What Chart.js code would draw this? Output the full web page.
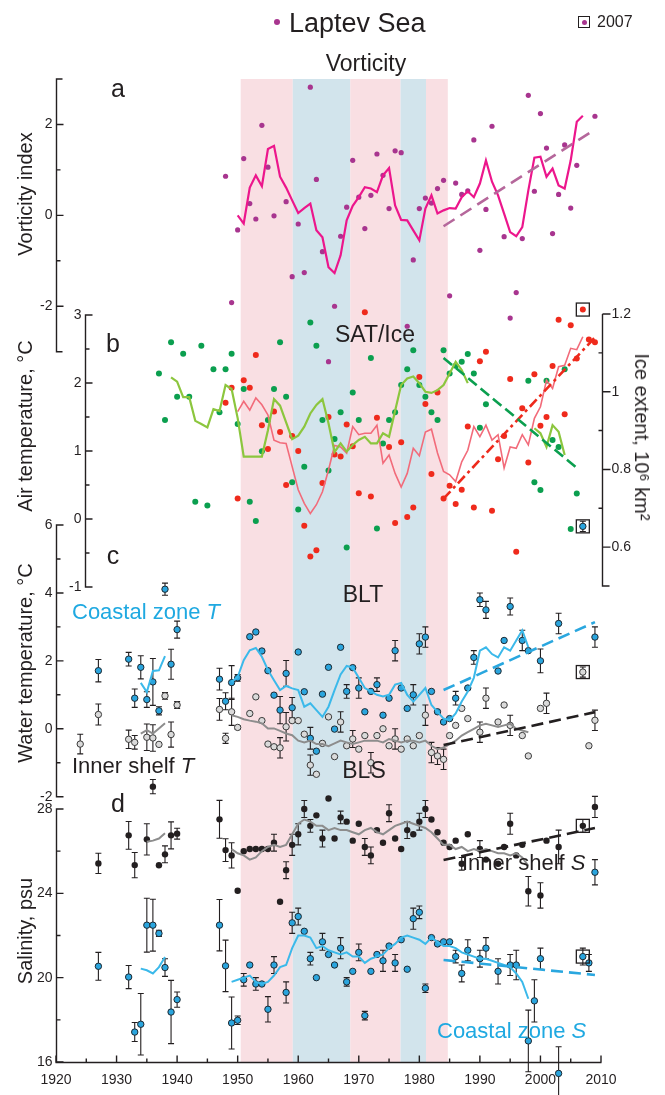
<!DOCTYPE html>
<html><head><meta charset="utf-8">
<script src="https://cdn.jsdelivr.net/npm/chart.js@4.4.0/dist/chart.umd.min.js"></script>
<style>
html,body{margin:0;padding:0;background:#fff;}
#wrap{position:relative;width:665px;height:1095px;font-family:"Liberation Sans",Arial,sans-serif;color:#231f20;overflow:hidden;}
#wrap canvas{position:absolute;left:0;top:0;}
.t{position:absolute;white-space:nowrap;line-height:1;}
.c{transform:translate(-50%,-50%);}
.l{transform:translate(0,-50%);}
.rl{transform:translate(-50%,-50%) rotate(-90deg);}
.rr{transform:translate(-50%,-50%) rotate(90deg);}
.cy{color:#1fa9e1;}
</style></head>
<body>
<div id="wrap">
<canvas id="cv" width="665" height="1095"></canvas>
<div class="t" style="left:274px;top:19px;width:6px;height:6px;border-radius:50%;background:#a8358f"></div>
<div class="t l" style="left:289px;top:23px;font-size:27px">Laptev Sea</div>
<div class="t" style="left:578px;top:16px;width:10px;height:10px;border:1.3px solid #231f20"></div>
<div class="t" style="left:582px;top:20px;width:5px;height:5px;border-radius:50%;background:#a8358f"></div>
<div class="t l" style="left:597px;top:22px;font-size:16px">2007</div>
<div class="t c" style="left:366px;top:63px;font-size:23px">Vorticity</div>
<div class="t c" style="left:118px;top:88px;font-size:25px">a</div>
<div class="t c" style="left:113px;top:343px;font-size:25px">b</div>
<div class="t c" style="left:113px;top:555px;font-size:25px">c</div>
<div class="t c" style="left:118px;top:803px;font-size:25px">d</div>
<div class="t c" style="left:375px;top:334px;font-size:23px">SAT/Ice</div>
<div class="t c" style="left:363px;top:594px;font-size:23px">BLT</div>
<div class="t c" style="left:364px;top:770px;font-size:23px">BLS</div>
<div class="t l cy" style="left:72px;top:612px;font-size:22px">Coastal zone <i>T</i></div>
<div class="t l" style="left:72px;top:766px;font-size:22px">Inner shelf <i>T</i></div>
<div class="t l" style="left:462px;top:863px;font-size:22px">Inner shelf <i>S</i></div>
<div class="t l cy" style="left:437px;top:1031px;font-size:22px">Coastal zone <i>S</i></div>
<div class="t rl" style="left:25px;top:194px;font-size:20px">Vorticity index</div>
<div class="t rl" style="left:25px;top:426px;font-size:20px">Air temperature, °C</div>
<div class="t rl" style="left:25px;top:663px;font-size:20px">Water temperature, °C</div>
<div class="t rl" style="left:25px;top:931px;font-size:20px">Salinity, psu</div>
<div class="t rr" style="left:642px;top:437px;font-size:20px">Ice extent, 10⁶ km²</div>
</div>
<script>
// ---------------- DATA ----------------
const xTickLabels = [1920,1930,1940,1950,1960,1970,1980,1990,2000,2010];
const xMinorTicks = [1925,1935,1945,1955,1965,1975,1985,1995,2005];
const vortTicks = [-2,0,2];
const vortMinor = [-1,1];
const satTicks = [-1,0,1,2,3];
const satMinor = [-0.5,0.5,1.5,2.5];
const iceTicks = [0.6,0.8,1,1.2];
const iceMinor = [0.7,0.9,1.1];
const wtTicks = [-2,0,2,4,6];
const wtMinor = [-1,1,3,5];
const salTicks = [16,20,24,28];
const salMinor = [18,22,26];

// climate regimes (shaded)
const bandStart = [1950.5,1959.1,1968.6,1976.9,1981.1];
const bandEnd   = [1959.1,1968.6,1976.9,1981.1,1984.7];
const bandKind  = ['warm','cold','warm','cold','warm'];

// (a) vorticity
const vortYears = [1948,1949,1950,1951,1952,1953,1954,1955,1956,1958,1959,1960,1961,1962,1963,1964,1965,1966,1967,1968,1969,1970,1971,1972,1973,1974,1975,1976,1977,1978,1979,1980,1981,1982,1983,1984,1985,1986,1987,1988,1989,1990,1991,1992,1993,1994,1995,1996,1997,1998,1999,2000,2001,2002,2003,2004,2005,2006,2008,2009];
const vortValues = [0.86,-1.92,-0.32,1.25,0.26,-0.08,1.98,1.06,-0.01,0.30,-1.35,-0.19,-1.26,2.82,0.79,-0.80,-3.22,-2.0,-0.46,0.18,1.21,0.40,-0.29,0.44,1.35,0.88,0.15,1.42,1.38,-2.44,-0.98,0.15,0.38,0.27,0.59,0.77,-1.77,0.71,0.46,0.54,1.66,-0.77,0.13,1.96,3.10,-0.47,-2.26,-1.70,-0.51,2.64,0.53,2.24,1.48,-0.40,0.46,1.55,0.16,1.10,3.33,2.18];
const vortMeanYears = [1950,1951,1952,1953,1954,1955,1956,1957,1958,1959,1960,1961,1962,1963,1964,1965,1966,1967,1968,1969,1970,1971,1972,1973,1974,1975,1976,1977,1978,1979,1980,1981,1982,1983,1984,1985,1986,1987,1988,1989,1990,1991,1992,1993,1994,1995,1996,1997,1998,1999,2000,2001,2002,2003,2004,2005,2006,2007];
const vortMean = [0.0,-0.18,0.61,0.88,0.64,1.46,1.53,0.85,0.61,0.33,0.05,0.16,0.26,-0.33,-0.48,-1.14,-1.27,-0.88,-0.11,0.21,0.40,0.62,0.59,0.51,0.88,1.04,0.22,-0.10,-0.11,-0.33,-0.55,0.15,0.44,0.04,0.11,0.16,0.15,0.40,0.53,0.40,0.70,1.21,0.74,0.44,0.04,-0.37,-0.46,-0.26,0.55,1.27,1.29,0.85,1.03,0.66,0.59,1.21,2.06,2.19];
const vortTrendYears = [1984,2009];
const vortTrend = [-0.24,1.89];

// (b) SAT and ice extent
const satYears = [1948,1949,1950,1951,1952,1953,1954,1955,1956,1957,1958,1959,1960,1961,1962,1963,1964,1965,1966,1967,1968,1969,1970,1971,1972,1973,1975,1976,1977,1978,1979,1980,1981,1982,1983,1984,1985,1986,1987,1988,1989,1990,1991,1992,1993,1994,1995,1996,1997,1998,1999,2000,2001,2002,2003,2004,2005,2006,2007,2008,2009];
const satValues = [1.71,1.93,0.30,2.04,1.93,2.41,1.38,1.03,1.58,1.28,0.50,1.22,1.00,-0.10,-0.55,-0.46,0.53,1.50,0.95,0.92,1.39,1.07,0.38,3.04,0.33,1.49,1.06,-0.06,1.13,0.03,0.17,2.09,1.69,0.66,1.86,0.30,0.49,0.22,0.43,1.36,0.17,2.32,2.46,0.12,0.88,1.22,2.06,-0.48,1.63,0.83,2.13,1.37,1.50,2.25,2.93,1.54,2.85,2.36,3.08,2.64,2.60];
const satMeanYears = [1950,1951,1952,1953,1954,1955,1956,1957,1958,1959,1960,1961,1962,1963,1964,1965,1966,1967,1968,1969,1970,1971,1972,1973,1974,1975,1976,1977,1978,1979,1980,1981,1982,1983,1984,1985,1986,1987,1988,1989,1990,1991,1992,1993,1994,1995,1996,1997,1998,1999,2000,2001,2002,2003,2004,2005,2006,2007];
const satMean = [1.58,1.73,1.60,1.78,1.68,1.53,1.16,1.12,1.11,0.77,0.43,0.23,0.08,0.21,0.40,0.72,1.08,1.06,0.97,1.36,1.24,1.26,1.26,1.38,0.82,0.94,0.67,0.47,0.67,1.04,0.93,1.28,1.32,0.97,0.70,0.65,0.55,0.84,1.01,1.36,1.21,1.38,1.16,1.24,0.75,1.06,1.04,1.24,1.09,1.48,1.65,2.04,1.92,2.24,2.26,2.51,2.49,2.68];
const satTrendYears = [1984,2009];
const satTrend = [0.30,2.67];
const iceYears = [1937,1938,1939,1940,1941,1942,1943,1944,1945,1946,1947,1948,1949,1950,1951,1952,1953,1954,1955,1956,1957,1958,1959,1960,1961,1962,1963,1964,1965,1966,1967,1968,1969,1970,1972,1973,1974,1975,1976,1977,1978,1979,1980,1981,1982,1983,1984,1985,1986,1987,1988,1989,1990,1991,1998,1999,2000,2001,2002,2003,2004,2005,2006];
const iceValues = [1.047,0.927,1.127,0.987,1.098,0.987,0.717,1.118,0.707,1.058,0.947,1.058,1.098,0.917,1.007,0.717,0.667,0.847,0.927,1.007,1.127,0.987,0.767,0.697,0.807,1.178,1.118,0.927,0.797,0.878,0.947,0.599,0.998,0.927,1.087,0.648,0.867,0.927,0.947,1.017,1.058,1.107,1.017,0.987,0.947,0.927,1.107,1.047,1.067,1.077,1.097,1.047,0.907,0.968,1.028,0.767,0.747,1.028,0.876,0.858,1.058,0.647,0.738];
const iceMeanYears = [1939,1940,1941,1942,1943,1944,1945,1946,1947,1948,1949,1950,1951,1952,1953,1954,1955,1956,1957,1958,1959,1960,1961,1962,1963,1964,1965,1966,1967,1968,1969,1970,1971,1972,1973,1974,1975,1976,1977,1978,1979,1980,1981,1982,1983,1984,1985,1986,1987,1988,1993,1999,2000,2001,2002,2003,2004];
const iceMean = [1.037,1.026,0.986,0.986,0.925,0.917,0.908,0.955,0.950,1.017,1.007,0.932,0.833,0.833,0.833,0.833,0.901,0.981,0.964,0.921,0.878,0.887,0.910,0.944,0.966,0.981,0.919,0.845,0.867,0.846,0.863,0.876,0.884,0.867,0.867,0.893,0.884,0.951,1.017,1.034,1.039,1.022,1.000,0.997,1.004,1.017,1.047,1.077,1.056,1.022,null,0.906,0.893,0.858,0.914,0.897,0.837];
const iceTrendYears = [1984,2006];
const iceTrend = [1.087,0.804];

// (c) bottom-layer temperature
const coastTYears = [1927,1932,1933,1934,1935,1936,1937,1938,1939,1940,1947,1948,1949,1950,1952,1953,1954,1955,1956,1957,1958,1959,1960,1961,1962,1963,1964,1965,1966,1967,1968,1969,1970,1971,1972,1973,1974,1975,1976,1977,1978,1979,1980,1981,1982,1983,1984,1985,1986,1988,1989,1990,1991,1993,1994,1995,1997,1998,2000,2003,2007,2009];
const coastT = [1.71,2.05,0.90,1.81,0.86,1.38,0.53,4.11,1.90,2.92,1.46,0.81,1.36,1.50,2.71,2.85,2.29,1.71,0.99,0.55,1.63,0.62,2.26,1.09,-0.28,-0.66,1.02,1.81,-0.01,2.4,1.1,1.8,1.2,0.5,1.1,1.3,0.4,0.9,2.3,1.2,0.6,1.0,2.5,2.7,1.1,0.5,0.2,0.3,0.9,1.2,2.1,3.8,3.5,1.7,2.6,3.6,2.6,2.3,2.0,3.1,5.96,2.7];
const coastTErr = [0.33,0.20,0.27,0.34,0.23,0.69,0.12,0.18,0.44,0.25,0.32,0.25,0.50,0.10,0,0,0,0,0,0.40,0.38,0.30,0,0,0.32,0,0,0,0,0,0.2,0,0.3,0,0,0.2,0,0,0.3,0,0,0.3,0.3,0.3,0,0,0,0,0.2,0,0.2,0.2,0.25,0,0,0.25,0.3,0,0.35,0.3,0.15,0.3];
const innerTYears = [1924,1927,1932,1933,1935,1936,1937,1938,1939,1940,1947,1948,1949,1950,1952,1953,1954,1955,1956,1957,1958,1959,1960,1961,1962,1963,1964,1965,1966,1967,1968,1969,1970,1971,1972,1973,1974,1975,1976,1977,1978,1979,1980,1981,1982,1983,1984,1985,1986,1987,1988,1990,1991,1993,1994,1995,1997,1998,2000,2001,2007,2008,2009];
const innerT = [-0.45,0.42,-0.31,-0.40,-0.25,-0.27,-0.46,0.97,-0.17,0.70,0.57,-0.28,0.50,0.04,0.45,0.94,0.24,-0.45,-0.53,-0.56,0.06,0.24,0.24,-0.16,-1.07,-1.34,-0.43,0.35,-0.82,0.2,-0.5,-0.3,-0.6,-0.2,-1.0,-0.2,0.0,-0.5,-0.3,-0.6,-0.3,-0.5,-0.2,0.4,-0.7,-0.8,-0.9,-0.2,0.1,0.6,0.3,-0.1,0.9,0.2,0.7,0.1,-0.2,-0.8,0.6,0.75,1.67,-0.5,0.25];
const innerTErr = [0.29,0.31,0.27,0.20,0.39,0.39,0,0.10,0.37,0.10,0.32,0.15,0.40,0.05,0,0,0,0,0,0.30,0.42,0,0,0,0.30,0,0,0,0,0.3,0,0.25,0,0,0.3,0,0,0,0.3,0,0,0,0,0.3,0.3,0.25,0.3,0,0,0,0,0.3,0.3,0,0,0.3,0,0,0,0.3,0.15,0,0.3];
const coastTMeanYears = [1934,1935,1936,1937,1938,1943,1949,1950,1951,1952,1953,1954,1955,1956,1957,1958,1959,1960,1961,1962,1963,1964,1965,1966,1967,1968,1969,1970,1971,1972,1973,1974,1975,1976,1977,1978,1979,1980,1981,1982,1983,1984,1985,1986,1987,1988,1989,1990,1991,1992,1993,1994,1995,1996,1997,1998];
const coastTMean = [1.35,1.08,1.70,1.72,2.14,null,1.38,1.52,2.02,2.31,2.38,2.12,1.73,1.43,1.14,1.26,1.19,1.14,0.65,0.75,0.55,0.35,0.65,1.14,1.6,1.85,1.8,1.5,1.2,1.1,1.0,0.95,1.0,1.3,1.35,1.0,0.8,1.0,1.2,0.7,0.5,0.3,0.25,0.45,0.8,1.1,1.5,2.3,2.4,2.2,2.1,2.4,2.3,2.6,2.9,2.4];
const innerTMeanYears = [1934,1935,1936,1937,1938,1943,1949,1950,1951,1952,1953,1954,1955,1956,1957,1958,1959,1960,1961,1962,1963,1964,1965,1966,1967,1968,1969,1970,1971,1972,1973,1974,1975,1976,1977,1978,1979,1980,1981,1982,1983,1984,1985,1986,1987,1988,1989,1990,1991,1992,1993,1994,1995,1996,1997,1998];
const innerTMean = [-0.14,-0.04,-0.14,0.01,0.16,null,0.40,0.35,0.28,0.24,0.21,0.16,0.01,0.01,-0.06,-0.14,-0.19,-0.35,-0.40,-0.35,-0.45,-0.45,-0.51,-0.43,-0.35,-0.4,-0.45,-0.4,-0.35,-0.35,-0.35,-0.4,-0.3,-0.35,-0.4,-0.35,-0.35,-0.4,-0.35,-0.5,-0.6,-0.55,-0.45,-0.35,-0.2,-0.1,0.0,0.1,0.15,0.1,0.05,0.1,0.15,0.0,-0.05,-0.1];
const coastTTrendYears = [1984,2009];
const coastTTrend = [1.14,3.14];
const innerTTrendYears = [1984,2009];
const innerTTrend = [-0.48,0.49];

// (d) bottom-layer salinity
const innerSYears = [1927,1932,1933,1935,1936,1937,1938,1939,1940,1947,1948,1949,1950,1951,1952,1953,1954,1955,1956,1957,1958,1959,1960,1961,1962,1963,1964,1965,1966,1967,1968,1969,1970,1971,1972,1973,1974,1975,1976,1977,1978,1979,1980,1981,1982,1983,1984,1985,1986,1987,1988,1990,1991,1993,1994,1995,1996,1997,1998,2000,2001,2003,2007,2009];
const innerS = [25.42,26.75,25.34,26.56,29.06,25.33,25.85,26.75,26.83,27.51,26.05,25.80,24.12,26.0,26.1,26.1,26.1,26.1,26.4,23.6,25.1,26.3,26.8,28.0,27.2,27.7,26.6,28.5,26.6,27.6,27.4,26.5,27.3,26.2,25.8,27.0,26.4,27.8,26.6,26.1,27.0,26.8,27.4,28.0,27.5,26.9,26.4,26.2,26.5,25.4,26.8,26.1,25.6,25.4,26.2,27.3,25.8,26.3,24.1,23.9,26.5,26.2,27.2,28.1];
const innerSErr = [0.48,0.66,0.60,0.74,0.34,0,0.40,0.64,0.26,0.90,0.54,0.60,0,0,0,0,0,0,0.4,0,0.4,0.5,0.5,0.4,0.3,0,0.4,0,0,0.3,0,0,0,0.4,0.4,0,0,0.4,0,0,0.4,0,0.4,0.4,0,0,0,0,0,0.3,0,0.4,0,0,0,0.5,0,0,0.7,0.6,0,0.8,0.3,0.5];
const coastSYears = [1927,1932,1933,1934,1935,1936,1937,1938,1939,1940,1947,1948,1949,1950,1951,1952,1953,1954,1955,1956,1958,1959,1960,1961,1962,1963,1964,1965,1966,1967,1968,1969,1970,1971,1972,1973,1974,1975,1976,1977,1978,1979,1980,1981,1982,1983,1984,1985,1986,1987,1988,1990,1991,1993,1995,1996,1998,1999,2000,2003,2007,2008,2009];
const coastS = [20.54,20.03,17.42,17.79,22.49,22.49,22.10,20.48,18.37,18.96,22.49,20.56,17.85,17.98,19.9,20.6,19.7,19.7,18.5,20.6,19.3,22.6,22.9,22.2,20.9,20.0,21.7,21.1,20.6,21.4,19.8,20.3,21.2,18.2,20.3,21.1,20.8,21.5,20.7,21.8,20.4,22.8,23.1,19.5,21.9,21.6,21.7,21.7,21.0,20.2,21.3,20.9,21.4,20.3,20.6,20.6,17.0,18.9,20.9,15.46,21.0,20.7,25.0];
const coastSErr = [0.66,0.55,0.45,1.46,1.28,1.23,0.15,0.42,1.50,0.36,1.22,1.22,1.23,0.20,0.3,0,0.3,0,0.6,0.4,0.5,0.5,0.4,0,0.3,0,0.4,0,0,0.5,0.2,0,0.4,0.2,0,0,0.5,0,0.4,0,0,0.5,0.3,0.2,0,0,0,0,0.3,0.4,0.5,0.4,0.5,0.6,0.5,0.7,1.46,1.0,0.5,1.26,0.4,0.4,0.6];
const innerSMeanYears = [1935,1936,1937,1938,1943,1949,1950,1951,1952,1953,1954,1955,1956,1957,1958,1959,1960,1961,1962,1963,1964,1965,1966,1967,1968,1969,1970,1971,1972,1973,1974,1975,1976,1977,1978,1979,1980,1981,1982,1983,1984,1985,1986,1987,1988,1989,1990,1991,1992,1993,1994,1995,1996,1997,1998];
const innerSMean = [26.45,26.50,26.60,26.85,null,26.1,25.9,25.8,25.6,25.7,26.0,26.2,26.3,26.2,26.3,26.8,27.3,27.5,27.4,27.2,27.2,27.0,27.1,27.0,27.0,26.9,26.8,27.0,27.1,26.9,26.8,27.0,27.2,27.3,27.4,27.3,27.2,27.1,26.9,26.6,26.3,26.3,26.1,26.2,26.0,26.1,26.0,26.1,26.0,25.9,25.9,25.8,25.9,25.7,25.3];
const coastSMeanYears = [1934,1935,1936,1937,1938,1943,1949,1950,1951,1952,1953,1954,1955,1956,1957,1958,1959,1960,1961,1962,1963,1964,1965,1966,1967,1968,1969,1970,1971,1972,1973,1974,1975,1976,1977,1978,1979,1980,1981,1982,1983,1984,1985,1986,1987,1988,1989,1990,1991,1992,1993,1994,1995,1996,1997,1998];
const coastSMean = [20.43,20.35,20.20,20.50,20.98,null,19.8,19.9,20.0,20.1,19.8,19.7,19.8,20.1,20.5,20.6,21.4,22.0,22.0,21.9,21.4,21.5,21.3,21.2,21.1,21.2,21.0,21.0,20.7,20.9,21.0,21.1,21.4,21.6,21.9,22.0,21.9,21.8,21.6,21.9,21.7,21.5,21.5,21.4,21.2,21.1,21.0,20.9,20.9,20.8,20.7,20.6,20.5,20.2,19.8,19.0];
const innerSTrendYears = [1984,2009];
const innerSTrend = [25.58,27.10];
const coastSTrendYears = [1984,2009];
const coastSTrend = [20.84,20.13];

// -------------- LAYOUT HELPERS --------------
const AREA_TOP = 79, AREA_BOTTOM = 1062;
function span(vTop, pTop, vBot, pBot){
  const k = (vTop - vBot) / (pBot - pTop);
  return {min: vBot - (AREA_BOTTOM - pBot) * k, max: vTop + (pTop - AREA_TOP) * k};
}
function pts(xs, ys){ return xs.map((x,i)=>({x:x, y:ys[i]})); }

const INK = '#231f20';
function dotSet(label, xs, ys, axis, color, extra){
  return Object.assign({label, data:pts(xs,ys), yAxisID:axis, showLine:false,
    pointRadius:2.8, pointBackgroundColor:color, pointBorderWidth:0, pointBorderColor:color, order:3}, extra||{});
}
function lineSet(label, xs, ys, axis, color, width, extra){
  return Object.assign({label, data:pts(xs,ys), yAxisID:axis, showLine:true, spanGaps:false,
    pointRadius:0, borderColor:color, borderWidth:width, backgroundColor:color, order:1, tension:0}, extra||{});
}
const COAST_FILL = '#2aa5de', INNER_FILL = '#dadada';

const datasets = [
  lineSet('Vorticity trend', vortTrendYears, vortTrend, 'ya', '#b5679b', 2.6, {borderDash:[13,7], order:0}),
  lineSet('Vorticity mean', vortMeanYears, vortMean, 'ya', '#ec168c', 2.2),
  dotSet('Vorticity', vortYears, vortValues, 'ya', '#a8358f', {pointRadius:2.6}),

  lineSet('Ice trend', iceTrendYears, iceTrend, 'yice', '#0b9f4f', 2.6, {borderDash:[11,5], order:0}),
  lineSet('SAT trend', satTrendYears, satTrend, 'ysat', '#ee2a1c', 2.6, {borderDash:[10,4,3,4], order:0}),
  lineSet('Ice mean', iceMeanYears, iceMean, 'yice', '#8cc63e', 2.2),
  lineSet('SAT mean', satMeanYears, satMean, 'ysat', '#f26b7a', 1.6),
  dotSet('Ice extent', iceYears, iceValues, 'yice', '#0b9f4f', {pointRadius:3}),
  dotSet('SAT', satYears, satValues, 'ysat', '#ef2a1c', {pointRadius:3, box2007:true}),

  lineSet('Coastal T trend', coastTTrendYears, coastTTrend, 'yt', '#2aa7df', 2.6, {borderDash:[12,6], order:0}),
  lineSet('Inner T trend', innerTTrendYears, innerTTrend, 'yt', INK, 2.6, {borderDash:[12,6], order:0}),
  lineSet('Coastal T mean', coastTMeanYears, coastTMean, 'yt', '#3bb9ea', 2.0),
  lineSet('Inner T mean', innerTMeanYears, innerTMean, 'yt', '#8d8d8d', 2.0),
  dotSet('Coastal zone T', coastTYears, coastT, 'yt', COAST_FILL, {pointRadius:3.2, pointBorderWidth:1, pointBorderColor:'#1d2830', errors:coastTErr, box2007:true}),
  dotSet('Inner shelf T', innerTYears, innerT, 'yt', INNER_FILL, {pointRadius:3.2, pointBorderWidth:1, pointBorderColor:'#3a3a3a', errors:innerTErr, box2007:true}),

  lineSet('Inner S trend', innerSTrendYears, innerSTrend, 'ys', INK, 2.6, {borderDash:[12,6], order:0}),
  lineSet('Coastal S trend', coastSTrendYears, coastSTrend, 'ys', '#2aa7df', 2.6, {borderDash:[12,6], order:0}),
  lineSet('Inner S mean', innerSMeanYears, innerSMean, 'ys', '#8d8d8d', 2.0),
  lineSet('Coastal S mean', coastSMeanYears, coastSMean, 'ys', '#3bb9ea', 2.0),
  dotSet('Inner shelf S', innerSYears, innerS, 'ys', INK, {pointRadius:3.2, pointBorderWidth:0, errors:innerSErr, box2007:true}),
  dotSet('Coastal zone S', coastSYears, coastS, 'ys', COAST_FILL, {pointRadius:3.2, pointBorderWidth:1, pointBorderColor:'#1d2830', errors:coastSErr, box2007:true, clip:false}),
];

// -------------- AXES / DECORATION PLUGIN --------------
const leftAxes = [
  {scale:'ya',   at:1920,   from:-3, to:3,  major:vortTicks, minor:vortMinor},
  {scale:'ysat', at:1924.8, from:-1, to:3,  major:satTicks,  minor:satMinor},
  {scale:'yt',   at:1920,   from:-2, to:6,  major:wtTicks,   minor:wtMinor},
  {scale:'ys',   at:1920,   from:16, to:28, major:salTicks,  minor:salMinor},
];
const decor = {
  id:'decor',
  beforeDatasetsDraw(chart){
    const {ctx, chartArea:a, scales} = chart;
    const xs = scales.x;
    ctx.save();
    bandStart.forEach((s,i)=>{
      const x1 = xs.getPixelForValue(s), x2 = xs.getPixelForValue(bandEnd[i]);
      ctx.fillStyle = bandKind[i]==='warm' ? '#f9dfe3' : '#d2e4ec';
      ctx.fillRect(x1, a.top, x2-x1, a.bottom-a.top);
    });
    ctx.strokeStyle = INK; ctx.lineWidth = 1.1;
    chart.data.datasets.forEach((ds, di)=>{
      if(!ds.errors) return;
      const meta = chart.getDatasetMeta(di);
      const ys = scales[ds.yAxisID];
      ds.data.forEach((p,i)=>{
        const e = ds.errors[i]; if(!e) return;
        const x = meta.data[i].x;
        const y1 = ys.getPixelForValue(p.y+e), y2 = ys.getPixelForValue(p.y-e);
        ctx.beginPath();
        ctx.moveTo(x,y1); ctx.lineTo(x,y2);
        ctx.moveTo(x-3,y1); ctx.lineTo(x+3,y1);
        ctx.moveTo(x-3,y2); ctx.lineTo(x+3,y2);
        ctx.stroke();
      });
    });
    ctx.restore();
  },
  afterDatasetsDraw(chart){
    const {ctx, chartArea:a, scales} = chart;
    const xs = scales.x;
    ctx.save();
    const page = {left:0, top:0, right:chart.width, bottom:chart.height};
    chart.data.datasets.forEach((ds, di)=>{
      if(ds.clip !== false) return;
      chart.getDatasetMeta(di).data.forEach(el=>{
        if(el.y > a.bottom || el.y < a.top) el.draw(ctx, page);
      });
    });
    ctx.strokeStyle = INK; ctx.fillStyle = INK; ctx.lineWidth = 1.4;
    ctx.font = '14px "Liberation Sans", Arial, sans-serif';
    leftAxes.forEach(ax=>{
      const ys = scales[ax.scale];
      const x0 = Math.round(xs.getPixelForValue(ax.at)) + 0.5;
      const yT = ys.getPixelForValue(ax.to), yB = ys.getPixelForValue(ax.from);
      ctx.beginPath();
      ctx.moveTo(x0+6,yT); ctx.lineTo(x0,yT); ctx.lineTo(x0,yB); ctx.lineTo(x0+6,yB);
      ax.major.forEach(v=>{const y=ys.getPixelForValue(v); ctx.moveTo(x0,y); ctx.lineTo(x0+7,y);});
      ax.minor.forEach(v=>{const y=ys.getPixelForValue(v); ctx.moveTo(x0,y); ctx.lineTo(x0+4,y);});
      ctx.stroke();
      ctx.textAlign='right'; ctx.textBaseline='middle';
      ax.major.forEach(v=> ctx.fillText(String(v), x0-4, ys.getPixelForValue(v)));
    });
    {
      const ys = scales.yice;
      const x0 = Math.round(xs.getPixelForValue(2010)) + 1.5;
      const yT = ys.getPixelForValue(1.2), yB = ys.getPixelForValue(0.5);
      ctx.beginPath();
      ctx.moveTo(x0,yT); ctx.lineTo(x0,yB); ctx.lineTo(x0+7,yB);
      iceTicks.forEach(v=>{const y=ys.getPixelForValue(v); ctx.moveTo(x0,y); ctx.lineTo(x0+8,y);});
      iceMinor.forEach(v=>{const y=ys.getPixelForValue(v); ctx.moveTo(x0-4,y); ctx.lineTo(x0,y);});
      ctx.stroke();
      ctx.textAlign='left'; ctx.textBaseline='middle';
      iceTicks.forEach(v=> ctx.fillText(String(v), x0+9, ys.getPixelForValue(v)));
    }
    {
      const y0 = Math.round(a.bottom) + 0.5;
      ctx.beginPath();
      ctx.moveTo(xs.getPixelForValue(1920)-0.5, y0); ctx.lineTo(xs.getPixelForValue(2010)+0.5, y0);
      xTickLabels.forEach(v=>{const x=xs.getPixelForValue(v); ctx.moveTo(x,y0); ctx.lineTo(x,y0-7);});
      xMinorTicks.forEach(v=>{const x=xs.getPixelForValue(v); ctx.moveTo(x,y0); ctx.lineTo(x,y0-4);});
      ctx.stroke();
      ctx.textAlign='center'; ctx.textBaseline='middle';
      xTickLabels.forEach(v=> ctx.fillText(String(v), xs.getPixelForValue(v), y0+18));
    }
    ctx.lineWidth = 1.3;
    chart.data.datasets.forEach((ds, di)=>{
      if(!ds.box2007) return;
      const meta = chart.getDatasetMeta(di);
      ds.data.forEach((p,i)=>{
        if(p.x !== 2007) return;
        const el = meta.data[i];
        ctx.strokeRect(el.x-6.5, el.y-6.5, 13, 13);
      });
    });
    ctx.restore();
  }
};

new Chart(document.getElementById('cv'), {
  type:'scatter',
  data:{datasets},
  options:{
    responsive:false, animation:false,
    layout:{padding:{left:56, right:64, top:AREA_TOP, bottom:1095-AREA_BOTTOM}},
    plugins:{legend:{display:false}, tooltip:{enabled:false}},
    scales:{
      x:{type:'linear', min:1920, max:2010, display:false},
      y:{display:false},
      ya:{type:'linear', display:false, ...span(3,79,-3,351.7)},
      ysat:{type:'linear', display:false, ...span(3,315,-1,587)},
      yice:{type:'linear', display:false, ...span(1.2,314,0.5,586)},
      yt:{type:'linear', display:false, ...span(6,525,-2,796.7)},
      ys:{type:'linear', display:false, ...span(28,809,16,1062)}
    }
  },
  plugins:[decor]
});
</script>
</body></html>
